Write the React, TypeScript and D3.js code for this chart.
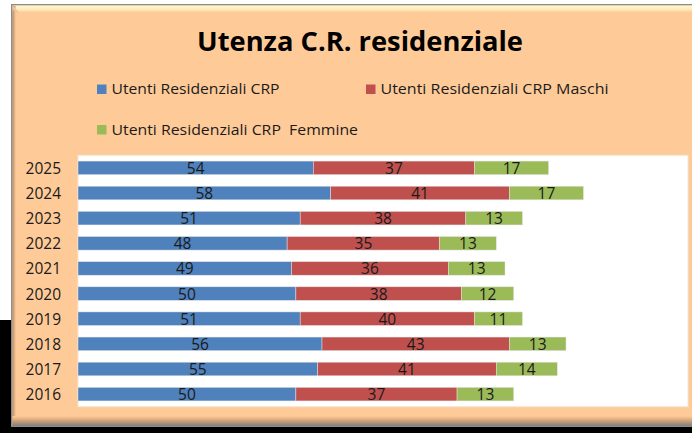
import React from "react";
import * as d3 from "d3";

const years = ["2025", "2024", "2023", "2022", "2021", "2020", "2019", "2018", "2017", "2016"];
const totali = [54, 58, 51, 48, 49, 50, 51, 56, 55, 50];
const maschi = [37, 41, 38, 35, 36, 38, 40, 43, 41, 37];
const femmine = [17, 17, 13, 13, 13, 12, 11, 13, 14, 13];
const seriesNames = ["Utenti Residenziali CRP", "Utenti Residenziali CRP Maschi", "Utenti Residenziali CRP  Femmine"];
const seriesKeys = ["totali", "maschi", "femmine"];
const colors = ["#4F81BD", "#C0504D", "#9BBB59"];
const title = "Utenza C.R. residenziale";

const W = 692, H = 433;
const plot = { x0: 78, x1: 688, y0: 155.3, y1: 406.7 };
const FONT = "'Open Sans', 'Noto Sans', sans-serif";

export default function App() {
  const rows = years.map((y, i) => ({ year: y, totali: totali[i], maschi: maschi[i], femmine: femmine[i] }));
  const stacked = d3.stack<any>().keys(seriesKeys)(rows);
  const x = d3.scaleLinear().domain([0, 140]).range([plot.x0, plot.x1]);
  const y = d3.scaleBand().domain(years).range([plot.y0, plot.y1]).paddingInner(0.46).paddingOuter(0.23);
  const bh = y.bandwidth();

  const legendItems = [
    { x: 97, y: 84.5, tx: 111.5, tl: 168 },
    { x: 366, y: 84.5, tx: 380.5, tl: 228 },
    { x: 97, y: 125, tx: 111.5, tl: 246.5 },
  ];

  return (
    <svg width={W} height={H} style={{ position: "absolute", left: 0, top: 0, display: "block" }}>
      <defs>
        <linearGradient id="botBevel" x1="0" y1="0" x2="0" y2="1">
          <stop offset="0" stopColor="#FECB98" />
          <stop offset="0.4" stopColor="#D9A97C" />
          <stop offset="0.8" stopColor="#9C8A7C" />
          <stop offset="1" stopColor="#808080" />
        </linearGradient>
        <linearGradient id="topBevel" x1="0" y1="0" x2="0" y2="1">
          <stop offset="0" stopColor="#FFF8D0" />
          <stop offset="0.6" stopColor="#FFE9B8" />
          <stop offset="1" stopColor="#FECB98" />
        </linearGradient>
        <linearGradient id="leftBevel" x1="0" y1="0" x2="1" y2="0">
          <stop offset="0" stopColor="#B89070" />
          <stop offset="1" stopColor="#FECB98" />
        </linearGradient>
      </defs>
      <rect x={0} y={0} width={W} height={H} fill="#FFFFFF" />
      {/* shadow */}
      <rect x={0} y={320} width={14} height={H - 320} fill="#000" />
      <rect x={0} y={426} width={W} height={H - 426} fill="#000" />
      {/* frame */}
      <rect x={11} y={4} width={W - 11 + 5} height={423} fill="#8C8C8C" />
      <rect x={12.5} y={5.5} width={W} height={420} fill="#FECB98" />
      <rect x={12.5} y={5.5} width={W} height={7} fill="url(#topBevel)" />
      <rect x={12.5} y={5.5} width={3.5} height={420} fill="url(#leftBevel)" />
      <polygon points="12.5,5.5 19.5,12.5 16,12.5 12.5,9" fill="#E8C8A0" />
      <rect x={12.5} y={416} width={W} height={10} fill="url(#botBevel)" />

      {/* title */}
      <text x={360} y={51} textAnchor="middle" fontFamily={FONT} fontWeight="bold" fontSize={26.5}
        textLength={326} lengthAdjust="spacingAndGlyphs" fill="#000">{title}</text>

      {/* legend */}
      {seriesNames.map((s, i) => (
        <g key={s}>
          <rect x={legendItems[i].x} y={legendItems[i].y} width={9.5} height={9.5} fill={colors[i]} />
          <text x={legendItems[i].tx} y={legendItems[i].y + 9.7} fontFamily={FONT} fontSize={14}
            textLength={legendItems[i].tl} lengthAdjust="spacingAndGlyphs" fill="#1a1a1a" style={{ whiteSpace: "pre" }}>{s}</text>
        </g>
      ))}

      {/* plot area */}
      <rect x={plot.x0} y={plot.y0} width={plot.x1 - plot.x0} height={plot.y1 - plot.y0} fill="#FFFFFF" stroke="#F3E6D6" strokeWidth={1} />

      {/* bars */}
      {stacked.map((layer, si) => (
        <g key={layer.key}>
          {layer.map((d, i) => {
            const yy = y(years[i])!;
            const x0 = x(d[0]);
            const x1 = x(d[1]);
            return (
              <g key={years[i]}>
                <rect x={x0} y={yy} width={x1 - x0} height={bh} fill={colors[si]} stroke="#E6E6E6" strokeWidth={0.6} strokeOpacity={0.8} />
                <text x={(x0 + x1) / 2} y={yy + bh / 2 + 6} textAnchor="middle" fontFamily={FONT} fontSize={15.5} fill="#1a1a1a">
                  {d[1] - d[0]}
                </text>
              </g>
            );
          })}
        </g>
      ))}

      {/* y axis labels */}
      {years.map((yr) => (
        <text key={yr} x={61} y={y(yr)! + bh / 2 + 6} textAnchor="end" fontFamily={FONT} fontSize={15.5} fill="#1a1a1a">{yr}</text>
      ))}
    </svg>
  );
}
